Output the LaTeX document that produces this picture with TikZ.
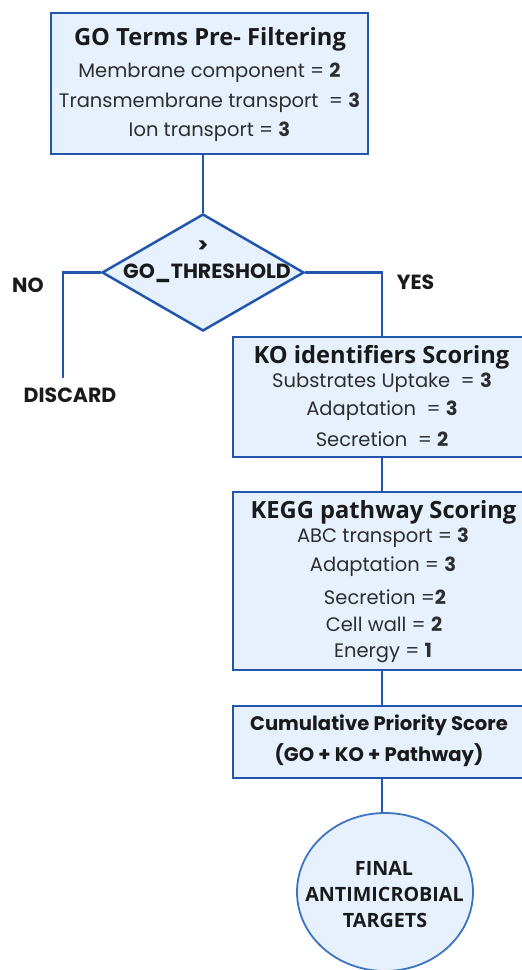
\documentclass[tikz,border=0pt]{standalone}
\usepackage{fontspec}
\setmainfont{Poppins}
\newfontfamily\headfont{Open Sans}
\usetikzlibrary{shapes.geometric}

\definecolor{boxfill}{HTML}{E6F1FD}
\definecolor{boxline}{HTML}{2256AC}
\definecolor{ringline}{HTML}{3C74C4}
\definecolor{inktext}{HTML}{1A1A1A}
\definecolor{bodytext}{HTML}{2E2E2E}

\tikzset{
  stagebox/.style={draw=boxline, line width=2.5pt, fill=boxfill, rectangle, inner sep=0pt},
  choice/.style={draw=boxline, line width=2.5pt, fill=boxfill, diamond, inner sep=0pt},
  finalring/.style={draw=ringline, line width=1.8pt, fill=boxfill, ellipse, inner sep=0pt},
  link/.style={draw=boxline, line width=2.5pt},
  headtxt/.style={font=\headfont\bfseries\fontsize{23.7}{26}\selectfont, text=inktext, inner sep=0pt},
  sumtxt/.style={font=\bfseries\fontsize{19.6}{22}\selectfont, text=inktext, inner sep=0pt},
  bodytxt/.style={font=\fontsize{19.5}{22}\selectfont, text=bodytext, inner sep=0pt},
  tagtxt/.style={font=\bfseries\fontsize{20.5}{23}\selectfont, text=inktext, inner sep=0pt},
  ringtxt/.style={font=\headfont\bfseries\fontsize{19.7}{22}\selectfont, text=inktext, inner sep=0pt},
}

\begin{document}
\begin{tikzpicture}[x=1pt, y=-1pt]
  \useasboundingbox (0,0) rectangle (522,970);
  \clip (0,0) rectangle (522,970);

  % GO term filtering stage
  \node[stagebox, minimum width=317pt, minimum height=141pt] (go) at (209.5,83.5) {};
  \node[headtxt] (go-t) at (210,39) {GO Terms Pre- Filtering};
  \node[bodytxt] (go-1) at (209.5,73) {Membrane component = \textbf{2}};
  \node[bodytxt] (go-2) at (209.5,103) {Transmembrane transport\ \ = \textbf{3}};
  \node[bodytxt] (go-3) at (209.5,132) {Ion transport = \textbf{3}};

  % threshold decision
  \node[choice, minimum width=202pt, minimum height=117pt] (th) at (203,272.5) {};
  \node[tagtxt] (th-1) at (203,247) {>};
  \node[tagtxt] (th-2) at (207,273) {GO\_THRESHOLD};

  % KO identifier scoring stage
  \node[stagebox, minimum width=298pt, minimum height=120pt] (ko) at (382,397) {};
  \node[headtxt] (ko-t) at (381.5,357) {KO identifiers Scoring};
  \node[bodytxt] (ko-1) at (382,383) {Substrates Uptake\ \ = \textbf{3}};
  \node[bodytxt] (ko-2) at (382,411) {Adaptation\ \ = \textbf{3}};
  \node[bodytxt] (ko-3) at (382,439) {Secretion\ \ = \textbf{2}};

  % KEGG pathway scoring stage
  \node[stagebox, minimum width=298pt, minimum height=178pt] (kegg) at (382,581) {};
  \node[headtxt] (kegg-t) at (383.5,512) {KEGG pathway Scoring};
  \node[bodytxt] (kegg-1) at (383,538) {ABC transport = \textbf{3}};
  \node[bodytxt] (kegg-2) at (383,567) {Adaptation = \textbf{3}};
  \node[bodytxt] (kegg-3) at (385,597) {Secretion =\textbf{2}};
  \node[bodytxt] (kegg-4) at (384,624) {Cell wall = \textbf{2}};
  \node[bodytxt] (kegg-5) at (383,653) {Energy = \textbf{1}};

  % cumulative score stage
  \node[stagebox, minimum width=298pt, minimum height=72pt] (cum) at (382,742) {};
  \node[sumtxt] (cum-1) at (379,725) {Cumulative Priority Score};
  \node[sumtxt] (cum-2) at (379,755) {(GO + KO + Pathway)};

  % final targets
  \node[finalring, minimum width=176pt, minimum height=158pt] (fin) at (385,892) {};
  \node[ringtxt] (fin-1) at (384,868) {FINAL};
  \node[ringtxt] (fin-2) at (384.5,894) {ANTIMICROBIAL};
  \node[ringtxt] (fin-3) at (385,920) {TARGETS};

  % branch labels
  \node[tagtxt] (no) at (28,285) {NO};
  \node[tagtxt] (yes) at (415.5,282) {YES};
  \node[tagtxt] (discard) at (70,395) {DISCARD};
  \coordinate (noend) at (63,378);

  % connectors
  \draw[link] (go.south -| th.north) -- (th.north);
  \draw[link] (th.west) -| (noend);
  \draw[link] (th.east) -| (ko.north);
  \draw[link] (ko.south) -- (kegg.north);
  \draw[link] (kegg.south) -- (cum.north);
  \draw[link] (cum.south) -- (cum.south |- fin.north);
\end{tikzpicture}
\end{document}
